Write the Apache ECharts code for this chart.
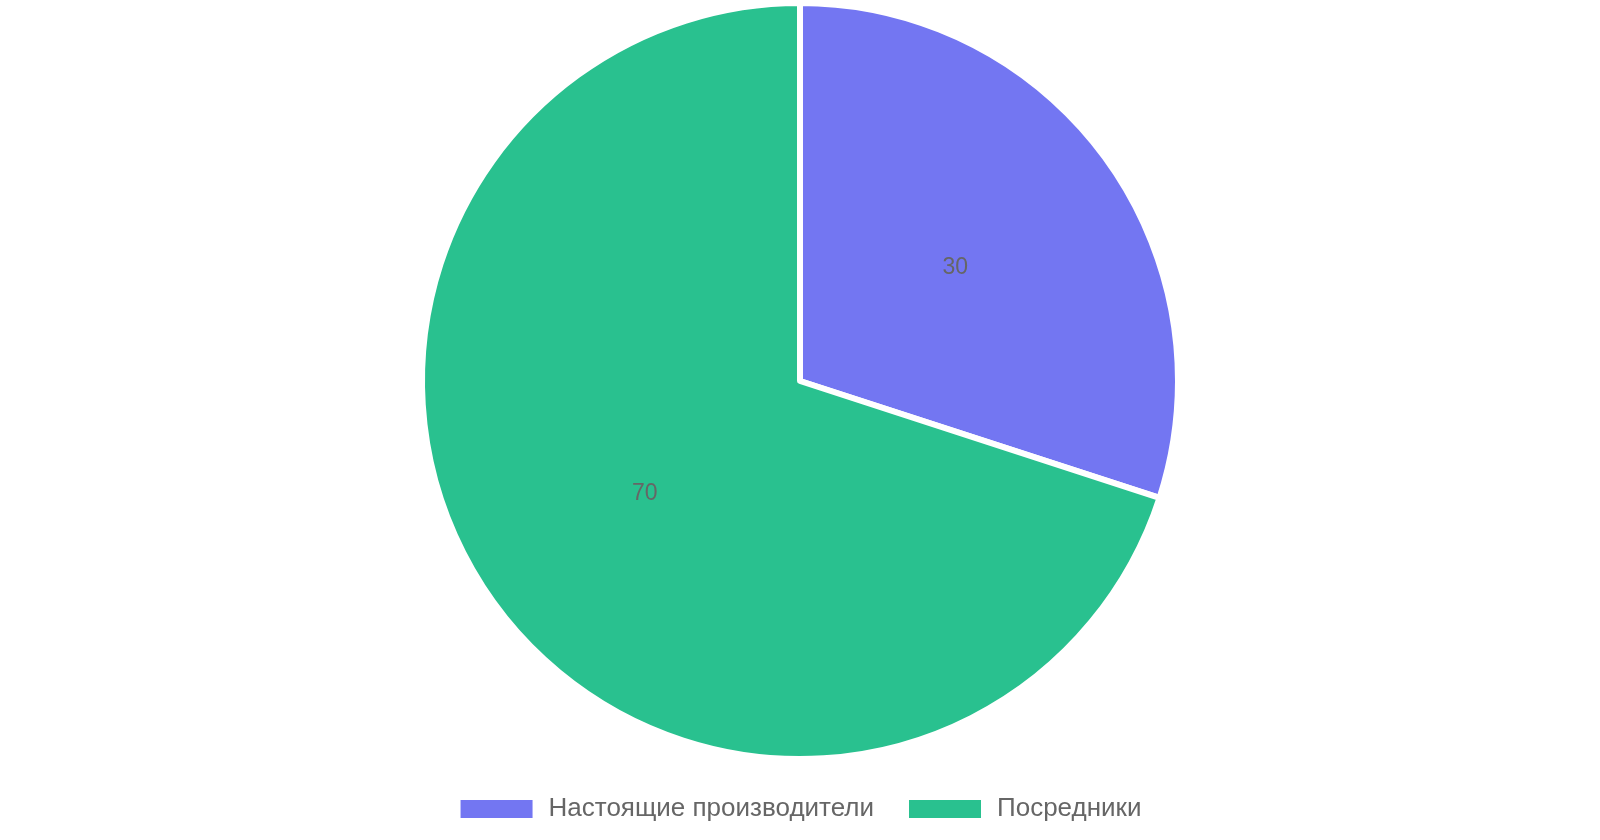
<!DOCTYPE html>
<html><head><meta charset="utf-8">
<script src="https://cdn.jsdelivr.net/npm/echarts@6/dist/echarts.min.js"></script>
<style>html,body{margin:0;padding:0;background:#fff}#c{width:1600px;height:840px}</style>
</head><body><div id="c"></div>
<script>
const categories = ["Настоящие производители", "Посредники"];
const values = [30, 70];
const colors = ["#7376f2", "#29c18f"];

const chart = echarts.init(document.getElementById('c'));
chart.setOption({
  animation: false,
  textStyle: { fontFamily: 'Liberation Sans, Arial, sans-serif' },
  legend: {
    bottom: 13,
    left: 'center',
    icon: 'rect',
    itemWidth: 74,
    itemHeight: 20,
    itemGap: 33,
    textStyle: { fontSize: 26, color: '#666', padding: [0, 0, 0, 10], fontFamily: 'Liberation Sans, Arial, sans-serif' },
    data: categories
  },
  series: [{
    type: 'pie',
    center: [800, 381],
    radius: [0, 378],
    startAngle: 90,
    clockwise: true,
    data: categories.map((n, i) => ({ name: n, value: values[i], itemStyle: { color: colors[i] } })),
    itemStyle: { borderColor: '#fff', borderWidth: 6 },
    label: { show: true, position: 'inside', formatter: '{c}', fontSize: 23, color: '#666', fontFamily: 'Liberation Sans, Arial, sans-serif' },
    labelLine: { show: false },
    emphasis: { disabled: true }
  }]
});
</script></body></html>
